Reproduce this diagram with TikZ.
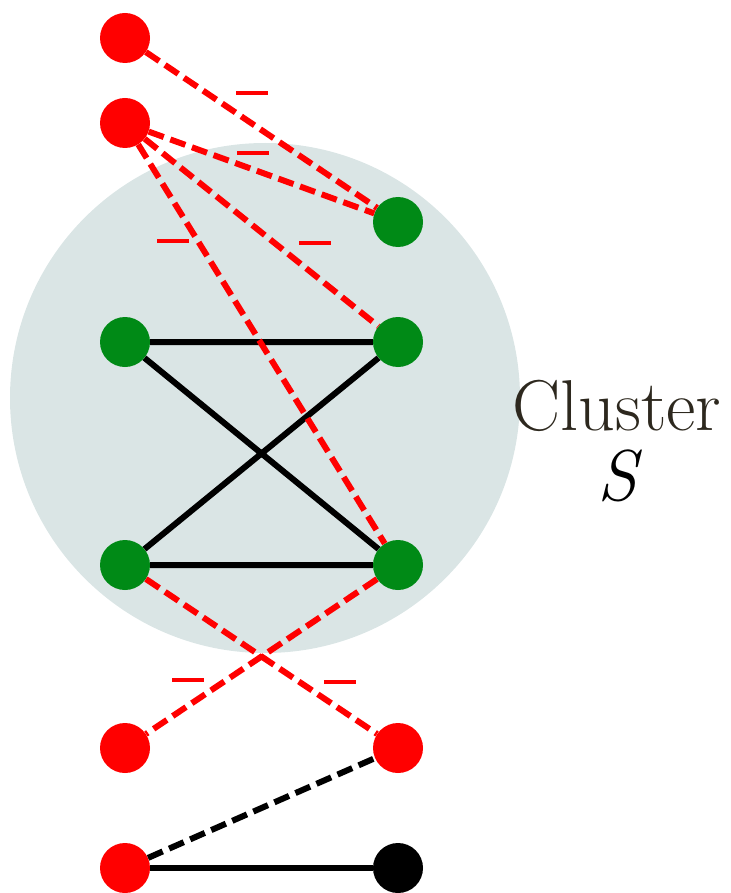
\documentclass[tikz,border=0pt]{standalone}
\definecolor{VertGraphe}{RGB}{0,138,22}
\definecolor{FondCluster}{RGB}{218,229,229}
\definecolor{Encre}{RGB}{45,40,30}

\begin{document}
\begin{tikzpicture}[x=1pt,y=-1pt]
    \tikzset{VertexStyle/.style = {circle,inner sep=0pt,minimum size=50pt,fill=#1}}
    \tikzset{NegEdge/.style = {line width=6pt,dash pattern=on 16pt off 7pt,color=#1}}
    \tikzset{PosEdge/.style = {line width=6pt,color=black}}
    \tikzset{MinusSign/.style = {rectangle,inner sep=0pt,minimum width=32pt,minimum height=4.5pt,fill=red}}
    \tikzset{ClusterText/.style = {anchor=base,inner sep=0pt,font=\fontsize{72}{72}\selectfont}}

    \useasboundingbox (0,0) rectangle (730,893);
    \fill[FondCluster] (265,398) circle[radius=255pt];

    % vertices
    \node[VertexStyle=red] (r1) at (125,38) {};
    \node[VertexStyle=red] (r2) at (125,123) {};
    \node[VertexStyle=VertGraphe] (g1) at (398,222) {};
    \node[VertexStyle=VertGraphe] (g2) at (125,342) {};
    \node[VertexStyle=VertGraphe] (g3) at (398,342) {};
    \node[VertexStyle=VertGraphe] (g4) at (125,565) {};
    \node[VertexStyle=VertGraphe] (g5) at (398,565) {};
    \node[VertexStyle=red] (r3) at (125,748) {};
    \node[VertexStyle=red] (r4) at (398,748) {};
    \node[VertexStyle=red] (r5) at (125,868) {};
    \node[VertexStyle=black] (k1) at (398,868) {};

    % edges inside the cluster
    \draw[PosEdge] (g2) -- (g3) (g2) -- (g5) (g4) -- (g3) (g4) -- (g5);
    \draw[PosEdge] (r5) -- (k1);
    \draw[NegEdge=black] (r5) -- (r4);

    % negative edges
    \draw[NegEdge=red]
    (r1) -- (g1) (r2) -- (g1) (r2) -- (g3) (r2) -- (g5)
    (g4) -- (r4) (g5) -- (r3);

    % signs
    \node[MinusSign] (m1) at (252,93) {};
    \node[MinusSign] (m2) at (253,153) {};
    \node[MinusSign] (m3) at (173,241) {};
    \node[MinusSign] (m4) at (315,243) {};
    \node[MinusSign] (m5) at (188,680) {};
    \node[MinusSign] (m6) at (340,682) {};

    \node[ClusterText,text=Encre] (lbl) at (617,430) {Cluster};
    \node[ClusterText,text=black] (lblS) at (617,500) {\itshape S};
\end{tikzpicture}
\end{document}
